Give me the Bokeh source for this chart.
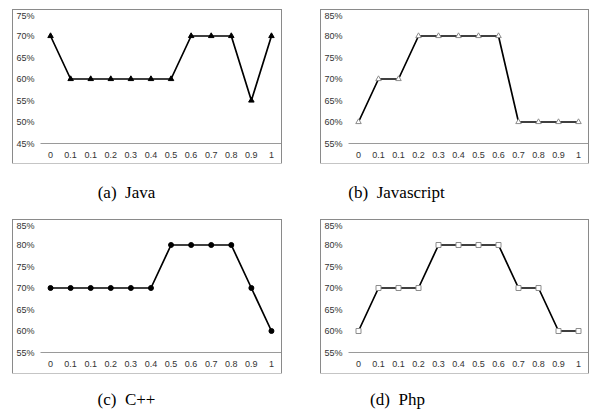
from bokeh.plotting import figure
from bokeh.layouts import row, column
from bokeh.models import Range1d, FixedTicker, Label, Spacer
from bokeh.embed import file_html
from bokeh.resources import INLINE

x_labels = ["0", "0.1", "0.1", "0.2", "0.3", "0.4", "0.5", "0.6", "0.7", "0.8", "0.9", "1"]
java = [70, 60, 60, 60, 60, 60, 60, 70, 70, 70, 55, 70]
javascript = [60, 70, 70, 80, 80, 80, 80, 80, 60, 60, 60, 60]
cpp = [70, 70, 70, 70, 70, 70, 80, 80, 80, 80, 70, 60]
php = [60, 70, 70, 70, 80, 80, 80, 80, 70, 70, 60, 60]
captions = ["(a)\u2002Java", "(b)\u2002Javascript", "(c)\u2002C++", "(d)\u2002Php"]
y_ranges = [(45, 75), (55, 85), (55, 85), (55, 85)]

TICK_FONT = "Liberation Sans"
BOX_COLOR = "#8a8a8a"


def chart(values, yr, marker, fill, mcolor, msize, width, height, top, bottom):
    n = len(values)
    p = figure(width=width, height=height, output_backend="svg", toolbar_location=None,
               x_range=Range1d(-0.5, n - 0.5), y_range=Range1d(*yr),
               min_border_left=26, min_border_right=0,
               min_border_top=top, min_border_bottom=bottom,
               styles={"box-shadow": f"0 0 0 1px {BOX_COLOR}"})
    p.outline_line_color = None
    p.xgrid.visible = False
    p.ygrid.visible = False
    xs = list(range(n))
    p.line(xs, values, line_color="black", line_width=1.7)
    p.scatter(xs, values, marker=marker, size=msize, fill_color=fill,
              line_color=mcolor, line_width=1)

    yticks = list(range(yr[0], yr[1] + 1, 5))
    p.yaxis.ticker = FixedTicker(ticks=yticks)
    p.yaxis.major_label_overrides = {v: f"{v}%" for v in yticks}
    p.xaxis.ticker = FixedTicker(ticks=xs)
    p.xaxis.major_label_overrides = {i: lab for i, lab in enumerate(x_labels)}
    for ax in (p.xaxis, p.yaxis):
        ax.major_tick_line_color = None
        ax.minor_tick_line_color = None
        ax.major_tick_out = 0
        ax.major_tick_in = 0
        ax.minor_tick_out = 0
        ax.minor_tick_in = 0
        ax.major_label_text_font = TICK_FONT
        ax.major_label_text_font_size = "9px"
        ax.major_label_text_color = "#333333"
    p.yaxis.axis_line_color = None
    p.yaxis.major_label_standoff = 6
    p.xaxis.axis_line_color = "#9a9a9a"
    p.xaxis.axis_line_width = 1
    p.xaxis.major_label_standoff = 8
    return p


def caption(text, width, height, cx, cy):
    p = figure(width=width, height=height, output_backend="svg", toolbar_location=None,
               x_range=Range1d(0, width), y_range=Range1d(height, 0),
               x_axis_location=None, y_axis_location=None,
               min_border=0)
    p.outline_line_color = None
    p.xgrid.visible = False
    p.ygrid.visible = False
    p.add_layout(Label(x=cx, y=cy, text=text, text_align="center", text_baseline="middle",
                       text_font="Liberation Serif", text_font_size="17px",
                       text_color="black"))
    return p


pa = chart(java, y_ranges[0], "triangle", "black", "black", 5.5, 268, 153, 4, 20)
pb = chart(javascript, y_ranges[1], "triangle", "white", "#8c8c8c", 5.5, 267, 153, 4, 20)
pc = chart(cpp, y_ranges[2], "circle", "black", "black", 5, 268, 153, 3, 21)
pd = chart(php, y_ranges[3], "square", "white", "#8c8c8c", 5, 267, 153, 3, 21)

ca = caption(captions[0], 300, 57, 126, 29)
cb = caption(captions[1], 290, 57, 96, 29)
cc = caption(captions[2], 300, 42, 126, 26)
cd = caption(captions[3], 290, 42, 97, 26)

layout = column(
    Spacer(height=10),
    row(Spacer(width=13), pa, Spacer(width=40), pb),
    row(ca, cb),
    row(Spacer(width=13), pc, Spacer(width=40), pd),
    row(cc, cd),
)
open("out.html", "w").write(file_html(layout, INLINE))
